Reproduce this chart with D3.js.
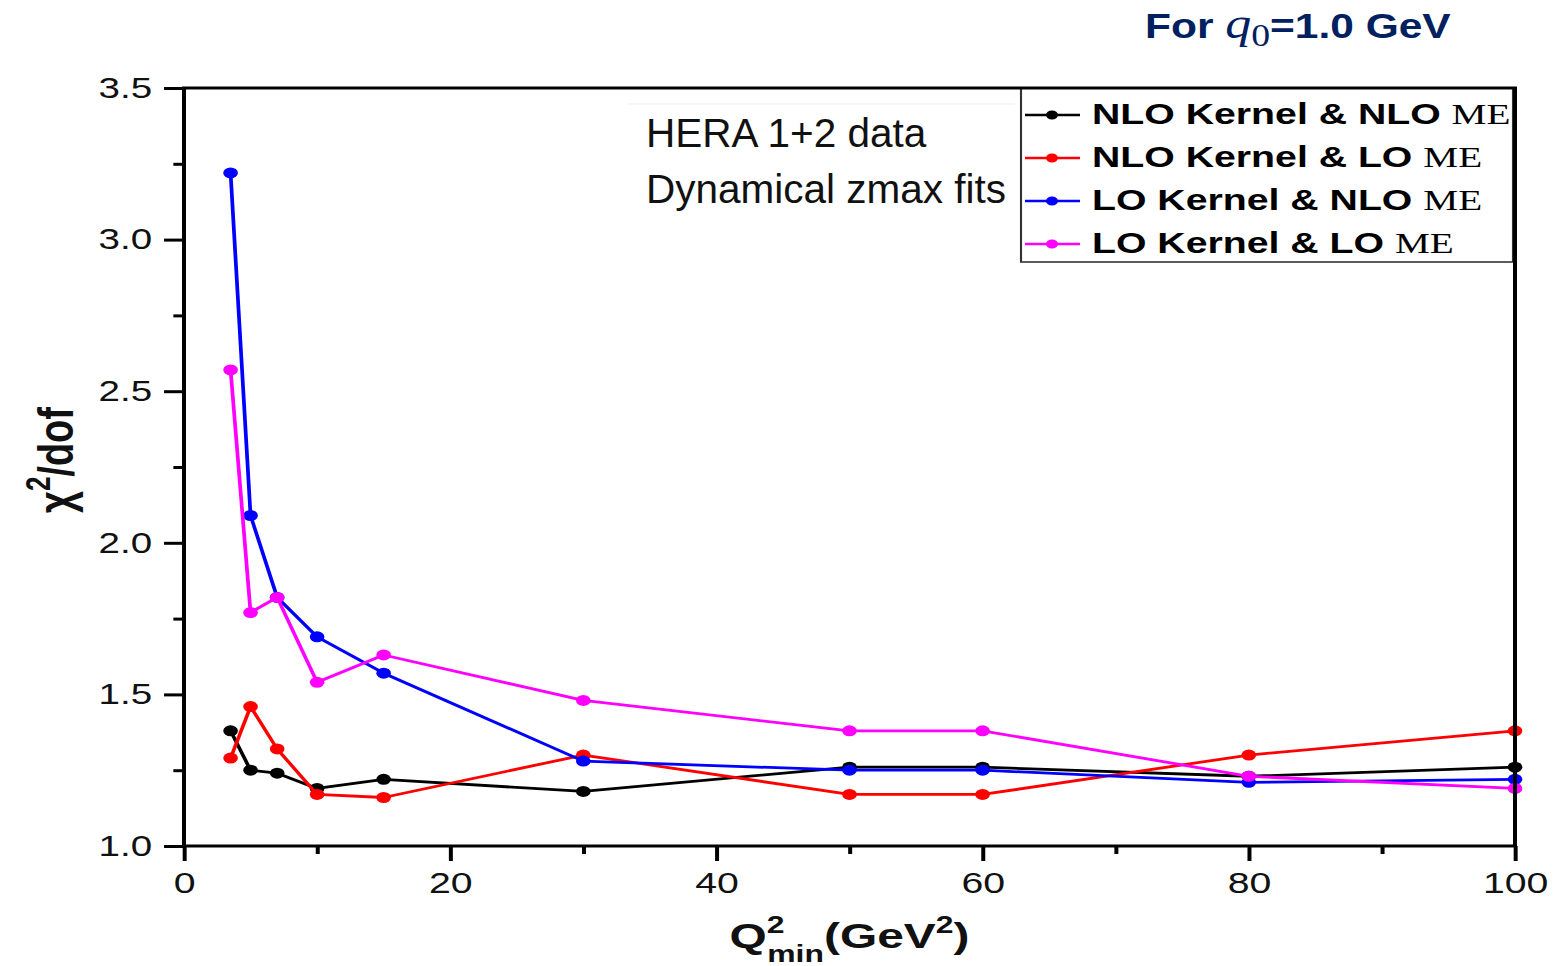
<!DOCTYPE html>
<html>
<head>
<meta charset="utf-8">
<script src="https://cdn.jsdelivr.net/npm/d3@7"></script>
<style>
  html, body { margin: 0; padding: 0; background: #fff; }
  svg { display: block; }
</style>
</head>
<body>
<svg id="chart" width="1558" height="966"></svg>
<script>
// Q^2_min cut values (GeV^2)
const qMin = [3.5, 5, 7, 10, 15, 30, 50, 60, 80, 100];
// chi^2/dof for each kernel / matrix-element combination
const nloKernelNloMe = [1.38, 1.25, 1.24, 1.19, 1.22, 1.18, 1.26, 1.26, 1.23, 1.26];
const nloKernelLoMe  = [1.29, 1.46, 1.32, 1.17, 1.16, 1.30, 1.17, 1.17, 1.30, 1.38];
const loKernelNloMe  = [3.22, 2.09, 1.82, 1.69, 1.57, 1.28, 1.25, 1.25, 1.21, 1.22];
const loKernelLoMe   = [2.57, 1.77, 1.82, 1.54, 1.63, 1.48, 1.38, 1.38, 1.23, 1.19];

const seriesNames  = ["NLO Kernel & NLO ", "NLO Kernel & LO ", "LO Kernel & NLO ", "LO Kernel & LO "];
const seriesValues = [nloKernelNloMe, nloKernelLoMe, loKernelNloMe, loKernelLoMe];
const seriesColors = ["#000000", "#ff0000", "#0000ff", "#ff00ff"];

const xTicksMajor = [0, 20, 40, 60, 80, 100];
const xTicksMinor = [10, 30, 50, 70, 90];
const yTicksMajor = [1.0, 1.5, 2.0, 2.5, 3.0, 3.5];
const yTicksMinor = [1.25, 1.75, 2.25, 2.75, 3.25];

(function draw() {
  const svg = d3.select("#chart");

  // the plot body is drawn with a wide aspect: everything inside gets stretched horizontally
  const SX = 1.33;
  const root = svg.append("g").attr("transform", `scale(${SX},1)`);

  const pLeft = 184 / SX, pRight = 1515 / SX, pTop = 88, pBottom = 846;

  const x = d3.scaleLinear().domain([0, 100]).range([pLeft, pRight]);
  const y = d3.scaleLinear().domain([1.0, 3.5]).range([pBottom, pTop]);

  const sans = "'Liberation Sans', Arial, sans-serif";
  const serif = "'Liberation Serif', 'Times New Roman', serif";

  // minor ticks
  root.append("g")
    .attr("transform", `translate(${pLeft},0)`)
    .call(d3.axisLeft(y).tickValues(yTicksMinor).tickSize(8).tickFormat(""))
    .call(g => g.select(".domain").remove())
    .call(g => g.selectAll("line").attr("stroke", "#000").attr("stroke-width", 3));
  root.append("g")
    .attr("transform", `translate(0,${pBottom})`)
    .call(d3.axisBottom(x).tickValues(xTicksMinor).tickSize(8).tickFormat(""))
    .call(g => g.select(".domain").remove())
    .call(g => g.selectAll("line").attr("stroke", "#000").attr("stroke-width", 3));

  // major ticks and labels
  root.append("g")
    .attr("transform", `translate(${pLeft},0)`)
    .call(d3.axisLeft(y).tickValues(yTicksMajor).tickSize(15).tickPadding(9).tickFormat(d3.format(".1f")))
    .call(g => g.select(".domain").remove())
    .call(g => g.selectAll("line").attr("stroke", "#000").attr("stroke-width", 3))
    .call(g => g.selectAll("text").attr("font-family", sans).attr("font-size", 29).attr("fill", "#111"));
  root.append("g")
    .attr("transform", `translate(0,${pBottom})`)
    .call(d3.axisBottom(x).tickValues(xTicksMajor).tickSize(15).tickPadding(11).tickFormat(d3.format("d")))
    .call(g => g.select(".domain").remove())
    .call(g => g.selectAll("line").attr("stroke", "#000").attr("stroke-width", 3))
    .call(g => g.selectAll("text").attr("font-family", sans).attr("font-size", 29.5).attr("fill", "#111"));

  // series lines and markers
  const line = d3.line().x((d, i) => x(qMin[i])).y(d => y(d));
  seriesValues.forEach((vals, k) => {
    const g = root.append("g");
    g.append("path")
      .attr("d", line(vals))
      .attr("fill", "none")
      .attr("stroke", seriesColors[k])
      .attr("stroke-width", 2.8)
      .attr("stroke-linejoin", "round");
    g.selectAll("circle").data(vals).join("circle")
      .attr("cx", (d, i) => x(qMin[i]))
      .attr("cy", d => y(d))
      .attr("r", 5.5)
      .attr("fill", seriesColors[k]);
  });

  // legend
  const lgX0 = 1021 / SX, lgX1 = 1513 / SX, lgY0 = 88, lgY1 = 262;
  const legend = root.append("g");
  legend.append("rect")
    .attr("x", lgX0).attr("y", lgY0)
    .attr("width", lgX1 - lgX0).attr("height", lgY1 - lgY0)
    .attr("fill", "#fff").attr("stroke", "#333").attr("stroke-width", 1.6);
  const rowY = d3.scaleLinear().domain([0, 3]).range([115, 244]);
  seriesNames.forEach((name, k) => {
    const cy = rowY(k);
    legend.append("line")
      .attr("x1", 1025 / SX).attr("x2", 1080 / SX)
      .attr("y1", cy).attr("y2", cy)
      .attr("stroke", seriesColors[k]).attr("stroke-width", 2.6);
    legend.append("circle")
      .attr("cx", 1052 / SX).attr("cy", cy).attr("r", 4.5)
      .attr("fill", seriesColors[k]);
    const t = legend.append("text")
      .attr("x", 1092 / SX).attr("y", cy + 9)
      .attr("font-family", sans).attr("font-size", 29.5).attr("font-weight", "bold")
      .attr("fill", "#000");
    t.append("tspan").text(name);
    t.append("tspan").attr("font-family", serif).attr("font-weight", "normal").text("ME");
  });

  // plot frame
  root.append("rect")
    .attr("x", pLeft).attr("y", pTop)
    .attr("width", pRight - pLeft).attr("height", pBottom - pTop)
    .attr("fill", "none").attr("stroke", "#000").attr("stroke-width", 3);

  // y axis title
  const yTitle = root.append("text")
    .attr("transform", `translate(${73 / SX},${(pTop + pBottom) / 2 - 7}) rotate(-90)`)
    .attr("text-anchor", "middle")
    .attr("font-family", sans).attr("font-size", 38).attr("font-weight", "bold")
    .attr("fill", "#111");
  yTitle.append("tspan").text("\u03c7");
  yTitle.append("tspan").attr("font-size", 26).attr("dy", -17).text("2");
  yTitle.append("tspan").attr("dy", 17).text("/dof");

  // x axis title
  const xTitle = root.append("text")
    .attr("x", (pLeft + pRight) / 2).attr("y", 948)
    .attr("text-anchor", "middle")
    .attr("font-family", sans).attr("font-size", 36).attr("font-weight", "bold")
    .attr("fill", "#111");
  xTitle.append("tspan").text("Q");
  xTitle.append("tspan").attr("font-size", 24).attr("dy", -15).text("2");
  xTitle.append("tspan").attr("font-size", 24).attr("dy", 29).attr("dx", -13).text("min");
  xTitle.append("tspan").attr("dy", -14).text("(GeV");
  xTitle.append("tspan").attr("font-size", 24).attr("dy", -15).text("2");
  xTitle.append("tspan").attr("dy", 15).text(")");

  // annotation box
  svg.append("line")
    .attr("x1", 628).attr("x2", 1015).attr("y1", 104).attr("y2", 104)
    .attr("stroke", "#ececec").attr("stroke-width", 1);
  svg.append("text")
    .attr("x", 646).attr("y", 147)
    .attr("font-family", sans).attr("font-size", 40.5).attr("fill", "#111")
    .text("HERA 1+2 data");
  svg.append("text")
    .attr("x", 646).attr("y", 203)
    .attr("font-family", sans).attr("font-size", 40.5).attr("fill", "#111")
    .text("Dynamical zmax fits");

  // heading
  const head = svg.append("g").attr("transform", "translate(1145,38) scale(1.18,1)");
  const ht = head.append("text")
    .attr("x", 0).attr("y", 0)
    .attr("font-family", sans).attr("font-size", 36).attr("font-weight", "bold")
    .attr("fill", "#002060");
  ht.append("tspan").text("For ");
  ht.append("tspan").attr("font-family", serif).attr("font-style", "italic").attr("font-weight", "normal")
    .attr("font-size", 44).text("q");
  ht.append("tspan").attr("font-family", serif).attr("font-weight", "normal")
    .attr("font-size", 32).attr("dy", 8).text("0");
  ht.append("tspan").attr("dy", -8).text("=1.0 GeV");
})();
</script>
</body>
</html>
